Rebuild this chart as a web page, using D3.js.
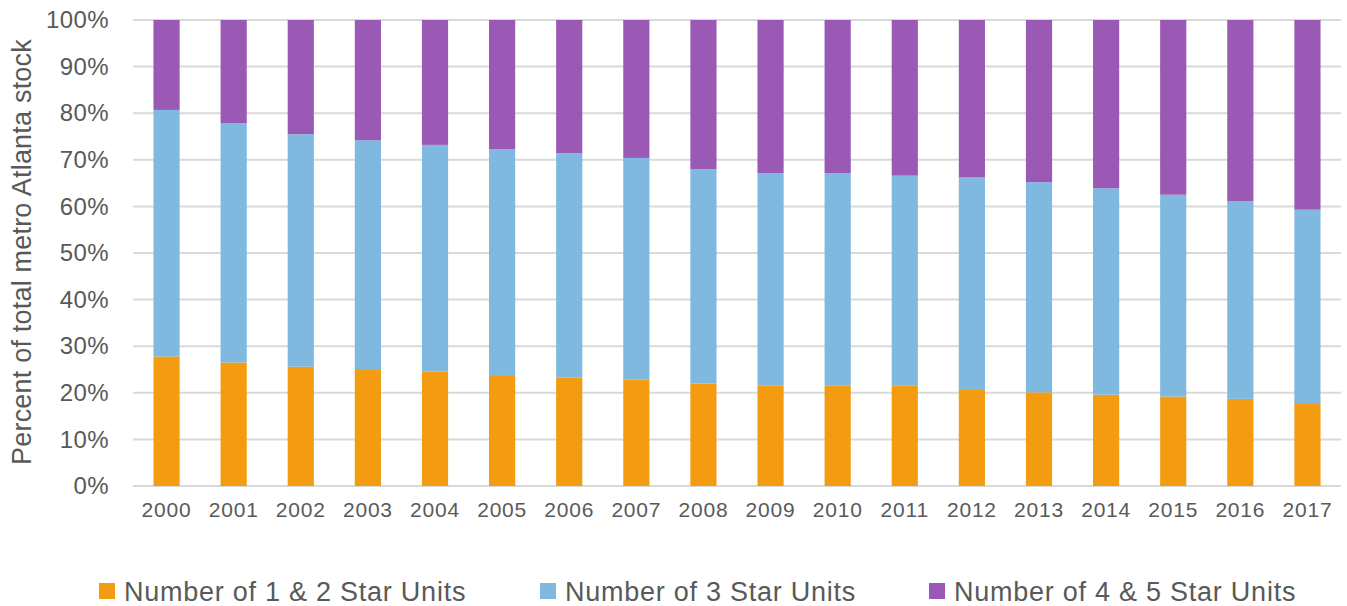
<!DOCTYPE html>
<html>
<head>
<meta charset="utf-8">
<script src="https://cdn.jsdelivr.net/npm/d3@7"></script>
<style>
    body { margin: 0; background: #fff; }
    text { font-family: "Liberation Sans", Arial, sans-serif; fill: #595959; }
</style>
</head>
<body>
<div id="chart"></div>
<script>
// data (percent of total stock)
let years = ["2000", "2001", "2002", "2003", "2004", "2005", "2006", "2007", "2008",
    "2009", "2010", "2011", "2012", "2013", "2014", "2015", "2016", "2017"];
let oneTwoStar = [27.8, 26.5, 25.6, 25.1, 24.6, 23.8, 23.3, 22.8, 22.0,
    21.5, 21.5, 21.5, 20.6, 20.1, 19.6, 19.2, 18.7, 17.8];
let threeStar = [52.9, 51.4, 49.9, 49.1, 48.6, 48.5, 48.1, 47.6, 46.0,
    45.6, 45.6, 45.1, 45.6, 45.1, 44.3, 43.3, 42.4, 41.5];
let fourFiveStar = [19.3, 22.1, 24.5, 25.8, 26.8, 27.7, 28.6, 29.6, 32.0,
    32.9, 32.9, 33.4, 33.8, 34.8, 36.1, 37.5, 38.9, 40.7];
let seriesNames = ["Number of 1 & 2 Star Units", "Number of 3 Star Units", "Number of 4 & 5 Star Units"];
let yTicks = [0, 10, 20, 30, 40, 50, 60, 70, 80, 90, 100];

let colors = ["#F39C12", "#7FB9E0", "#9B59B6"];

// set the dimensions and margins of the graph
let margin = { top: 20, right: 6, bottom: 120, left: 133 },
    width = 1347 - margin.left - margin.right,
    height = 606 - margin.top - margin.bottom;

let svg = d3.select("#chart")
    .append("svg")
    .attr("width", 1347)
    .attr("height", 606);

let g = svg.append("g")
    .attr("transform", "translate(" + margin.left + "," + margin.top + ")");

let x = d3.scaleBand()
    .domain(years)
    .range([0, width])
    .paddingInner(0.61)
    .paddingOuter(0.305);

let y = d3.scaleLinear()
    .domain([0, 100])
    .range([height, 0]);

// gridlines
g.append("g")
    .selectAll("line")
    .data(yTicks)
    .enter()
    .append("line")
    .attr("x1", 0)
    .attr("x2", width)
    .attr("y1", d => y(d))
    .attr("y2", d => y(d))
    .attr("stroke", "#D9D9D9")
    .attr("stroke-width", 2);

// stack the three series
let rows = years.map((yr, i) => ({
    year: yr,
    s0: oneTwoStar[i],
    s1: threeStar[i],
    s2: fourFiveStar[i]
}));
let stacked = d3.stack().keys(["s0", "s1", "s2"])(rows);

g.append("g")
    .selectAll("g")
    .data(stacked)
    .enter()
    .append("g")
    .attr("fill", (d, i) => colors[i])
    .selectAll("rect")
    .data(d => d)
    .enter()
    .append("rect")
    .attr("x", d => x(d.data.year))
    .attr("width", x.bandwidth())
    .attr("y", d => y(Math.min(d[1], 100)))
    .attr("height", d => y(d[0]) - y(Math.min(d[1], 100)));

// Y axis labels
let yAxis = g.append("g")
    .call(d3.axisLeft(y).tickValues(yTicks).tickFormat(d => d + "%").tickSize(0).tickPadding(24));
yAxis.select(".domain").remove();
yAxis.selectAll("text")
    .style("font-size", "24px")
    .style("letter-spacing", "0.4px")
    .style("fill", "#595959")
    .style("font-family", "'Liberation Sans', Arial, sans-serif");

// X axis labels
let xAxis = g.append("g")
    .attr("transform", "translate(0," + height + ")")
    .call(d3.axisBottom(x).tickSize(0).tickPadding(16));
xAxis.select(".domain").remove();
xAxis.selectAll("text")
    .style("font-size", "21px")
    .style("letter-spacing", "0.8px")
    .style("fill", "#595959")
    .style("font-family", "'Liberation Sans', Arial, sans-serif");

// y axis title
svg.append("text")
    .attr("transform", "translate(31," + (margin.top + height / 2 - 1) + ") rotate(-90)")
    .attr("text-anchor", "middle")
    .style("font-size", "27px")
    .style("letter-spacing", "0.2px")
    .text("Percent of total metro Atlanta stock");

// ---------------------------//
//       LEGEND              //
// ---------------------------//
let legendX = [99, 540, 929];
let legend = svg.append("g")
    .selectAll("g")
    .data(seriesNames)
    .enter()
    .append("g")
    .attr("transform", (d, i) => "translate(" + legendX[i] + ",583)");

legend.append("rect")
    .attr("width", 16)
    .attr("height", 16)
    .attr("fill", (d, i) => colors[i]);

legend.append("text")
    .attr("x", 25)
    .attr("y", 18)
    .style("font-size", "27px")
    .style("letter-spacing", "0.75px")
    .text(d => d);
</script>
</body>
</html>
